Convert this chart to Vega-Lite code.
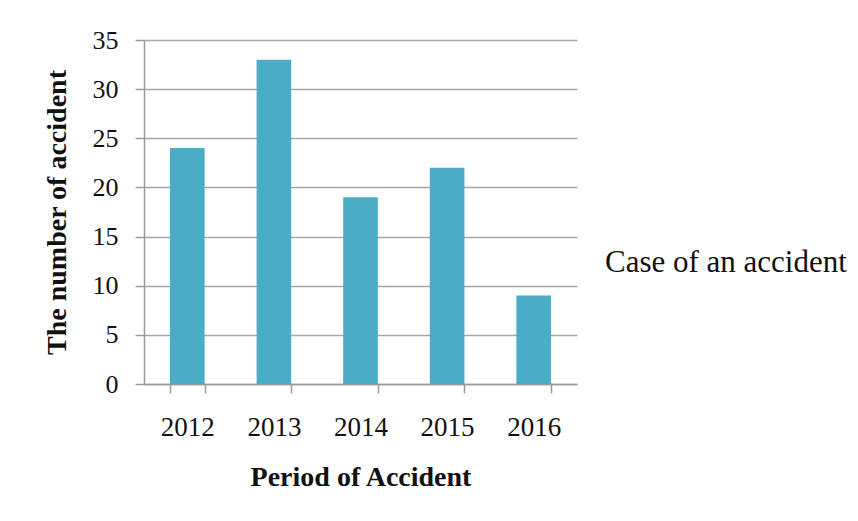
{
  "$schema": "https://vega.github.io/schema/vega-lite/v6.json",
  "width": 433,
  "height": 344,
  "autosize": {"type": "none"},
  "padding": {"left": 144, "top": 40, "right": 281, "bottom": 137},
  "background": "white",
  "config": {
    "font": "Liberation Serif",
    "view": {"stroke": null},
    "axis": {
      "domainColor": "#9a9a9a",
      "domainWidth": 1.5,
      "tickColor": "#9a9a9a",
      "tickWidth": 1.5,
      "tickSize": 9,
      "gridColor": "#a6a6a6",
      "gridWidth": 1.5,
      "labelColor": "#111111",
      "titleColor": "#111111",
      "labelFont": "Liberation Serif",
      "titleFont": "Liberation Serif",
      "titleFontWeight": "bold",
      "titleFontSize": 28,
      "labelFontWeight": "normal"
    }
  },
  "data": {
    "values": [
      {"year": "2012", "accidents": 24, "series": "Case of an accident"},
      {"year": "2013", "accidents": 33, "series": "Case of an accident"},
      {"year": "2014", "accidents": 19, "series": "Case of an accident"},
      {"year": "2015", "accidents": 22, "series": "Case of an accident"},
      {"year": "2016", "accidents": 9, "series": "Case of an accident"}
    ]
  },
  "mark": {"type": "bar"},
  "encoding": {
    "x": {
      "field": "year",
      "type": "ordinal",
      "scale": {"paddingInner": 0.6, "paddingOuter": 0.3},
      "axis": {
        "title": "Period of Accident",
        "labelAngle": 0,
        "labelFontSize": 27,
        "labelPadding": 21,
        "tickBand": "extent",
        "titlePadding": 23,
        "grid": false
      }
    },
    "y": {
      "field": "accidents",
      "type": "quantitative",
      "scale": {"domain": [0, 35], "nice": false},
      "axis": {
        "title": "The number of accident",
        "values": [0, 5, 10, 15, 20, 25, 30, 35],
        "labelFontSize": 26,
        "labelPadding": 17,
        "titlePadding": 21,
        "grid": true
      }
    },
    "color": {
      "field": "series",
      "type": "nominal",
      "scale": {"range": ["#4bacc6"]},
      "legend": {
        "title": null,
        "orient": "none",
        "legendX": 430,
        "legendY": 207,
        "padding": 0,
        "symbolSize": 0,
        "symbolStrokeWidth": 0,
        "symbolOpacity": 0,
        "labelOffset": 0,
        "labelFont": "Liberation Serif",
        "labelFontSize": 31,
        "labelColor": "#111111",
        "labelLimit": 400
      }
    }
  }
}
